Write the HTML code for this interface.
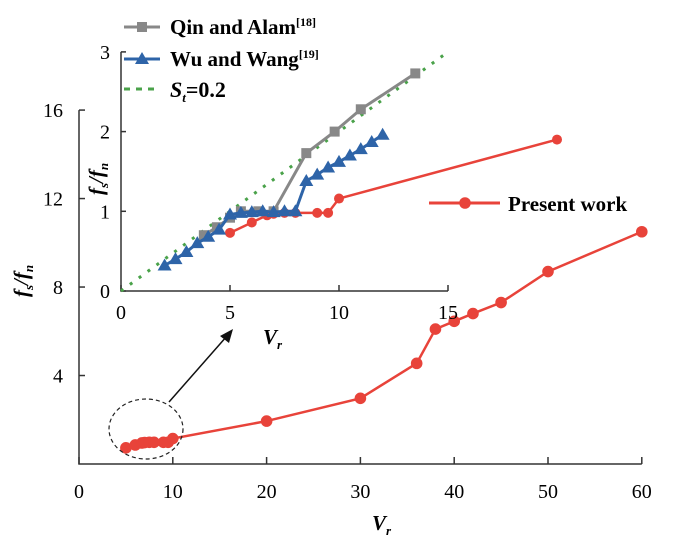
<!DOCTYPE html>
<html><head><meta charset="utf-8"><style>
html,body{margin:0;padding:0;background:#fff;}
svg{display:block;font-family:"Liberation Serif",serif;}
</style></head><body>
<svg id="c" width="700" height="546" viewBox="0 0 700 546">
<g id="main"></g>
<g id="inset"></g>
<g id="legend"></g>
</svg>
<script>
const NS="http://www.w3.org/2000/svg";
const mainX=[5,6,6.7,7,7.5,8,9,9.5,10,20,30,36,38,40,42,45,50,60];
const mainY=[0.73,0.86,0.95,0.97,0.98,0.98,0.98,0.98,1.15,1.94,2.97,4.55,6.1,6.45,6.8,7.3,8.7,10.5];
const mainXTicks=[0,10,20,30,40,50,60];
const mainYTicks=[4,8,12,16];
const qinX=[3.8,4.4,5,5.5,6.3,7,8.5,9.8,11,13.5];
const qinY=[0.7,0.8,0.92,1.0,1.0,1.0,1.73,2.0,2.28,2.73];
const wuX=[2,2.5,3,3.5,4,4.5,5,5.5,6,6.5,7,7.5,8,8.5,9,9.5,10,10.5,11,11.5,12];
const wuY=[0.32,0.4,0.49,0.6,0.68,0.77,0.96,0.98,0.99,1.0,0.99,1.0,1.0,1.38,1.46,1.55,1.62,1.7,1.78,1.87,1.96];
const redInX=[5,6,6.7,7,7.5,8,9,9.5,10,20];
const redInY=[0.73,0.86,0.95,0.97,0.98,0.98,0.98,0.98,1.16,1.9];
const stX=[0,14.8];
const stY=[0,2.96];
const inXTicks=[0,5,10,15];
const inYTicks=[0,1,2,3];

const mx=v=>79+v*9.38, my=v=>464-v*22.12;
const ix=v=>121+v*21.8, iy=v=>291-v*79.7;

function el(parent,tag,attrs,text){const e=document.createElementNS(NS,tag);for(const k in attrs)e.setAttribute(k,attrs[k]);if(text!==undefined)e.textContent=text;parent.appendChild(e);return e;}
const M=document.getElementById('main'),I=document.getElementById('inset'),L=document.getElementById('legend');

// main axes
let a=el(M,'path',{d:`M${mx(0)} ${my(16)}V${my(0)}H${mx(60)}`,fill:'none',stroke:'#333','stroke-width':1.5});


mainXTicks.forEach(t=>{
  let l=el(M,'line',{x1:mx(t),x2:mx(t),y1:my(0),y2:my(0)-7,stroke:'#333','stroke-width':1.5});
  
  
  let tx=el(M,'text',{x:mx(t),y:my(0)+34,'text-anchor':'middle','font-size':20},String(t));
  
  
});
mainYTicks.forEach(t=>{
  let l=el(M,'line',{x1:mx(0),x2:mx(0)+6,y1:my(t),y2:my(t),stroke:'#333','stroke-width':1.5});
  
  
  let tx=el(M,'text',{x:63,y:my(t)+7,'text-anchor':'end','font-size':20},String(t));
  
  
});
let xt=el(M,'text',{x:372,y:530,'font-size':21,'font-style':'italic','font-weight':'bold'});
xt.innerHTML='V<tspan font-size="13" dy="5">r</tspan>';


let yt=el(M,'text',{transform:'translate(28,297) rotate(-90)','font-size':21,'font-style':'italic','font-weight':'bold'});
yt.innerHTML='f<tspan font-size="13" dy="5">s</tspan><tspan dy="-5">/f</tspan><tspan font-size="13" dy="5">n</tspan>';



// main series
let pm=el(M,'polyline',{points:mainX.map((x,i)=>mx(x)+','+my(mainY[i])).join(' '),fill:'none',stroke:'#e8433a','stroke-width':2.5});


mainX.forEach((x,i)=>{
  let c=el(M,'circle',{cx:mx(x),cy:my(mainY[i]),r:5.8,fill:'#e8433a'});
  
  
});
let ell=el(M,'ellipse',{cx:146,cy:429,rx:37,ry:30,fill:'none',stroke:'#222','stroke-width':1.2,'stroke-dasharray':'4,3'});


let ar=el(M,'line',{x1:169,y1:402,x2:227,y2:336,stroke:'#111','stroke-width':1.5});


let ah=el(M,'polygon',{points:'233,329 220,336 229,343',fill:'#111'});



// inset axes
let ia=el(I,'path',{d:`M${ix(0)} ${iy(3)}V${iy(0)}H${ix(15)}`,fill:'none',stroke:'#333','stroke-width':1.5});


inXTicks.forEach(t=>{
  let l=el(I,'line',{x1:ix(t),x2:ix(t),y1:iy(0),y2:iy(0)-6,stroke:'#333','stroke-width':1.5});
  
  
  let tx=el(I,'text',{x:ix(t),y:iy(0)+28,'text-anchor':'middle','font-size':20},String(t));
  
  
});
inYTicks.forEach(t=>{
  let l=el(I,'line',{x1:ix(0),x2:ix(0)+5,y1:iy(t),y2:iy(t),stroke:'#333','stroke-width':1.5});
  
  
  let tx=el(I,'text',{x:110,y:iy(t)+7,'text-anchor':'end','font-size':20},String(t));
  
  
});
let ixt=el(I,'text',{x:263,y:344,'font-size':21,'font-style':'italic','font-weight':'bold'});
ixt.innerHTML='V<tspan font-size="13" dy="5">r</tspan>';


let iyt=el(I,'text',{transform:'translate(103,195) rotate(-90)','font-size':21,'font-style':'italic','font-weight':'bold'});
iyt.innerHTML='f<tspan font-size="13" dy="5">s</tspan><tspan dy="-5">/f</tspan><tspan font-size="13" dy="5">n</tspan>';



// St line
let st=el(I,'line',{x1:ix(stX[0]),y1:iy(stY[0]),x2:ix(stX[1]),y2:iy(stY[1]),stroke:'#4aa24a','stroke-width':3,'stroke-dasharray':'3,8'});


// red inset
let pr=el(I,'polyline',{points:redInX.map((x,i)=>ix(x)+','+iy(redInY[i])).join(' '),fill:'none',stroke:'#e8433a','stroke-width':2.5});


redInX.forEach((x,i)=>{
  let c=el(I,'circle',{cx:ix(x),cy:iy(redInY[i]),r:5,fill:'#e8433a'});
  
  
});
// gray
let pq=el(I,'polyline',{points:qinX.map((x,i)=>ix(x)+','+iy(qinY[i])).join(' '),fill:'none',stroke:'#888','stroke-width':3});


qinX.forEach((x,i)=>{
  let r=el(I,'rect',{x:ix(x)-5,y:iy(qinY[i])-5,width:10,height:10,fill:'#888'});
  
  
});
// blue
let pw=el(I,'polyline',{points:wuX.map((x,i)=>ix(x)+','+iy(wuY[i])).join(' '),fill:'none',stroke:'#2e64a8','stroke-width':3});


wuX.forEach((x,i)=>{
  const cx=ix(x),cy=iy(wuY[i]);
  let t=el(I,'polygon',{points:`${cx},${cy-7} ${cx-7},${cy+5} ${cx+7},${cy+5}`,fill:'#2e64a8'});
  
  
});

// legend
function legRow(name){const g=el(L,'g',{});return g;}
let g1=legRow('legend-entry-qin');
el(g1,'line',{x1:124,x2:160,y1:27,y2:27,stroke:'#888','stroke-width':3});
el(g1,'rect',{x:137,y:22,width:10,height:10,fill:'#888'});
let t1=el(g1,'text',{x:170,y:34,'font-size':21,'font-weight':'bold'});t1.innerHTML='Qin and Alam<tspan font-size="12" dy="-8">[18]</tspan>';
let g2=legRow('legend-entry-wu');
el(g2,'line',{x1:124,x2:160,y1:59,y2:59,stroke:'#2e64a8','stroke-width':3});
el(g2,'polygon',{points:'142,52 135,64 149,64',fill:'#2e64a8'});
let t2=el(g2,'text',{x:170,y:66,'font-size':21,'font-weight':'bold'});t2.innerHTML='Wu and Wang<tspan font-size="12" dy="-8">[19]</tspan>';
let g3=legRow('legend-entry-st');
el(g3,'line',{x1:124,x2:160,y1:89,y2:89,stroke:'#4aa24a','stroke-width':3,'stroke-dasharray':'6,6'});
let t3=el(g3,'text',{x:170,y:97,'font-size':22,'font-weight':'bold'});t3.innerHTML='<tspan font-style="italic">S</tspan><tspan font-size="13" dy="5" font-style="italic">t</tspan><tspan dy="-5">=0.2</tspan>';
let g4=legRow('legend-entry-present');
el(g4,'line',{x1:429,x2:500,y1:203,y2:203,stroke:'#e8433a','stroke-width':3});
el(g4,'circle',{cx:465,cy:203,r:5.8,fill:'#e8433a'});
el(g4,'text',{x:508,y:211,'font-size':21,'font-weight':'bold'},'Present work');
</script>
</body></html>
